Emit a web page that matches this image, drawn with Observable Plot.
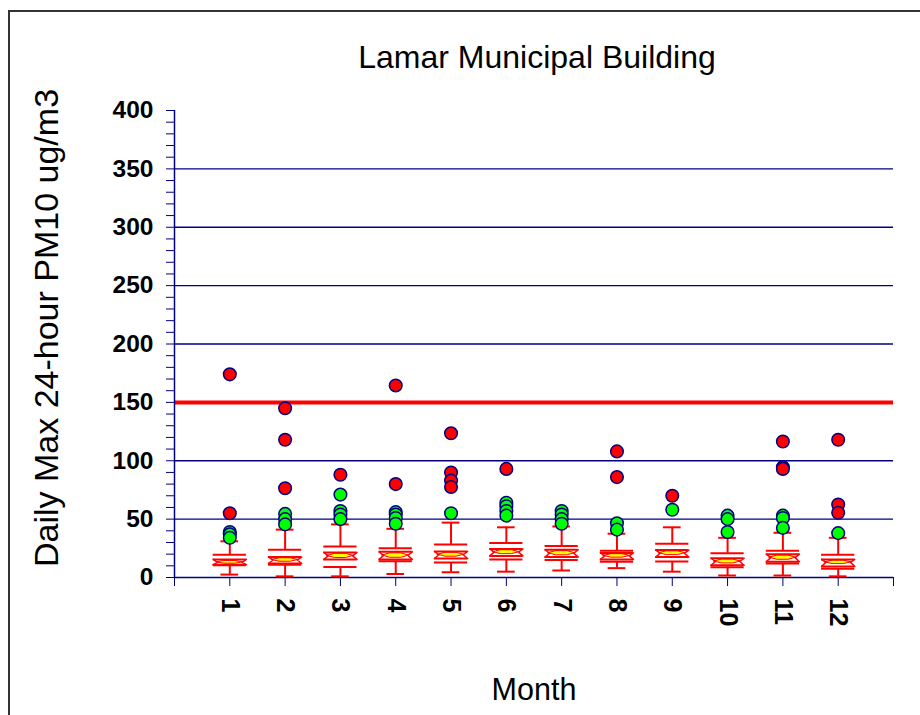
<!DOCTYPE html>
<html><head><meta charset="utf-8">
<script src="https://cdn.jsdelivr.net/npm/d3@7"></script>
<script src="https://cdn.jsdelivr.net/npm/@observablehq/plot@0.6"></script>
<style>
html,body{margin:0;padding:0;background:#fff;}
#wrap{position:relative;width:920px;height:715px;overflow:hidden;}
#border{position:absolute;left:8px;top:10px;width:2000px;height:2000px;border-left:2px solid #333;border-top:2px solid #333;pointer-events:none;}
</style></head><body><div id="wrap"><div id="border"></div></div>
<script>
// ---- data ----
const title = "Lamar Municipal Building";
const yTitle = "Daily Max 24-hour PM10 ug/m3";
const xTitle = "Month";
const months      = [1, 2, 3, 4, 5, 6, 7, 8, 9, 10, 11, 12];
const whiskerLow  = [2.5, 1, 1, 3, 4.5, 5, 6, 8, 5, 1.7, 1.7, 1];
const q1          = [10.5, 11, 9, 14, 12.8, 15.5, 15, 13.5, 13.7, 8.8, 12, 7.5];
const notchLow    = [11, 12, 15.5, 15.5, 16.3, 18.5, 17.5, 15.5, 17.5, 10.5, 13.5, 9.5];
const median      = [13, 15, 18.5, 18.8, 19.5, 21.7, 20.8, 18.5, 20.8, 13.7, 17, 13];
const notchHigh   = [15.5, 17.5, 21.5, 22, 22.3, 24.5, 23.8, 21, 23.5, 16.5, 20, 15.5];
const q3          = [19.4, 23.7, 26.5, 25, 28.3, 29.5, 27, 23, 29, 20.8, 23, 19.4];
const whiskerHigh = [31, 41, 45.5, 41.7, 47, 43, 43.7, 37.5, 43, 34, 38.3, 34];
// extreme outliers (red) and outliers (green)
const farMonth  = [1, 1, 2, 2, 2, 3, 4, 4, 5, 5, 5, 5, 6, 8, 8, 9, 11, 11, 11, 12, 12, 12];
const farValue  = [174, 55, 145, 118, 76.5, 88, 164.5, 80, 123.5, 90, 83, 77.5, 93, 108, 86, 70, 116.5, 94.5, 93, 118, 62.5, 55.5];
const nearMonth = [1, 1, 1, 2, 2, 2, 3, 3, 3, 3, 4, 4, 4, 4, 5, 6, 6, 6, 6, 7, 7, 7, 7, 8, 8, 9, 10, 10, 10, 11, 11, 11, 12];
const nearValue = [39, 37, 34, 54.5, 50, 45.5, 71, 57, 54, 50, 56, 54, 51, 46, 55, 64, 61, 57, 53, 57, 54, 50, 46, 46.5, 41, 58, 53, 50, 39, 53, 51, 42.5, 38];
const gridValues = [50, 100, 150, 200, 250, 300, 350];
const standard = [150];
const xTicks = [0, 1, 2, 3, 4, 5, 6, 7, 8, 9, 10, 11, 12, 13];
const yTicks = d3.range(0, 401, 10);

// ---- build tables ----
const navy = "#000080", red = "#ff0000", green = "#00ff00", yellow = "#ffff00";
const boxes = months.map((m, i) => ({m, wlo: whiskerLow[i], q1: q1[i], nlo: notchLow[i], med: median[i], nhi: notchHigh[i], q3: q3[i], whi: whiskerHigh[i]}));
const far = farMonth.map((m, i) => ({m, v: farValue[i]}));
const near = nearMonth.map((m, i) => ({m, v: nearValue[i]}));
const BW = 0.3, CW = 0.16, NI = 0.22;
const notchLines = boxes.flatMap(b => [
  {k: b.m + "L", x: b.m - BW, y: b.nhi}, {k: b.m + "L", x: b.m - NI, y: b.med}, {k: b.m + "L", x: b.m - BW, y: b.nlo},
  {k: b.m + "R", x: b.m + BW, y: b.nhi}, {k: b.m + "R", x: b.m + NI, y: b.med}, {k: b.m + "R", x: b.m + BW, y: b.nlo}
]);
const lens = boxes.flatMap(b => {
  const h = Math.min(b.nhi - b.med, b.med - b.nlo) * 0.6;
  return [
    {m: b.m, x: b.m - 0.24, lo: b.med, hi: b.med},
    {m: b.m, x: b.m - 0.1, lo: b.med - h, hi: b.med + h},
    {m: b.m, x: b.m + 0.1, lo: b.med - h, hi: b.med + h},
    {m: b.m, x: b.m + 0.24, lo: b.med, hi: b.med}
  ];
});

const font = "Liberation Sans, Arial, Helvetica, sans-serif";
const chart = Plot.plot({
  width: 920, height: 715,
  marginLeft: 174, marginRight: 27, marginTop: 110, marginBottom: 138,
  style: {fontFamily: font, background: "transparent", overflow: "visible", color: "black"},
  x: {domain: [0, 13], label: null},
  y: {domain: [0, 400], label: null},
  marks: [
    Plot.ruleY(gridValues, {stroke: navy, strokeWidth: 1.3}),
    Plot.ruleY(standard, {stroke: red, strokeWidth: 4}),
    Plot.ruleX([0], {stroke: navy, strokeWidth: 1.5}),
    Plot.ruleY([0], {stroke: navy, strokeWidth: 1.5}),
    Plot.axisY({ticks: yTicks, tickSize: 8, tickPadding: 13, stroke: navy, label: null,
      tickFormat: d => d % 50 === 0 ? String(d) : "", fontSize: 24.5, fontWeight: "bold"}),
    Plot.axisX({ticks: xTicks, tickSize: 9, tickPadding: 12, stroke: navy, label: null, tickRotate: 90,
      tickFormat: d => d >= 1 && d <= 12 ? String(d) : "", fontSize: 25, fontWeight: "bold"}),
    // whiskers
    Plot.ruleX(boxes, {x: "m", y1: "wlo", y2: "q1", stroke: red, strokeWidth: 2}),
    Plot.ruleX(boxes, {x: "m", y1: "q3", y2: "whi", stroke: red, strokeWidth: 2}),
    Plot.ruleY(boxes, {y: "wlo", x1: d => d.m - CW, x2: d => d.m + CW, stroke: red, strokeWidth: 2}),
    Plot.ruleY(boxes, {y: "whi", x1: d => d.m - CW, x2: d => d.m + CW, stroke: red, strokeWidth: 2}),
    // box lines
    Plot.ruleY(boxes, {y: "q1", x1: d => d.m - BW, x2: d => d.m + BW, stroke: red, strokeWidth: 2}),
    Plot.ruleY(boxes, {y: "q3", x1: d => d.m - BW, x2: d => d.m + BW, stroke: red, strokeWidth: 2}),
    // notch
    Plot.areaY(lens, {x: "x", y1: "lo", y2: "hi", z: "m", fill: yellow, stroke: red, strokeWidth: 1, curve: "linear"}),
    Plot.ruleY(boxes, {y: "nlo", x1: d => d.m - BW, x2: d => d.m + BW, stroke: red, strokeWidth: 2}),
    Plot.ruleY(boxes, {y: "nhi", x1: d => d.m - BW, x2: d => d.m + BW, stroke: red, strokeWidth: 2}),
    Plot.line(notchLines, {x: "x", y: "y", z: "k", stroke: red, strokeWidth: 1.5}),
    // outliers
    Plot.dot(near, {x: "m", y: "v", r: 6.3, fill: green, stroke: navy, strokeWidth: 1.5}),
    Plot.dot(far, {x: "m", y: "v", r: 6.3, fill: red, stroke: navy, strokeWidth: 1.5}),
    // titles
    Plot.text([title], {text: d => d, frameAnchor: "top", dx: 3, dy: -65, fontSize: 32, fill: "black"}),
    Plot.text([yTitle], {text: d => d, frameAnchor: "left", textAnchor: "middle", rotate: -90, dx: -127, dy: -16, fontSize: 34, fill: "black"}),
    Plot.text([xTitle], {text: d => d, frameAnchor: "bottom", dy: 122, fontSize: 30.5, fill: "black"})
  ]
});
document.getElementById("wrap").appendChild(chart);
chart.style.position = "absolute";
chart.style.left = "0px";
chart.style.top = "0px";
</script>
</body></html>
